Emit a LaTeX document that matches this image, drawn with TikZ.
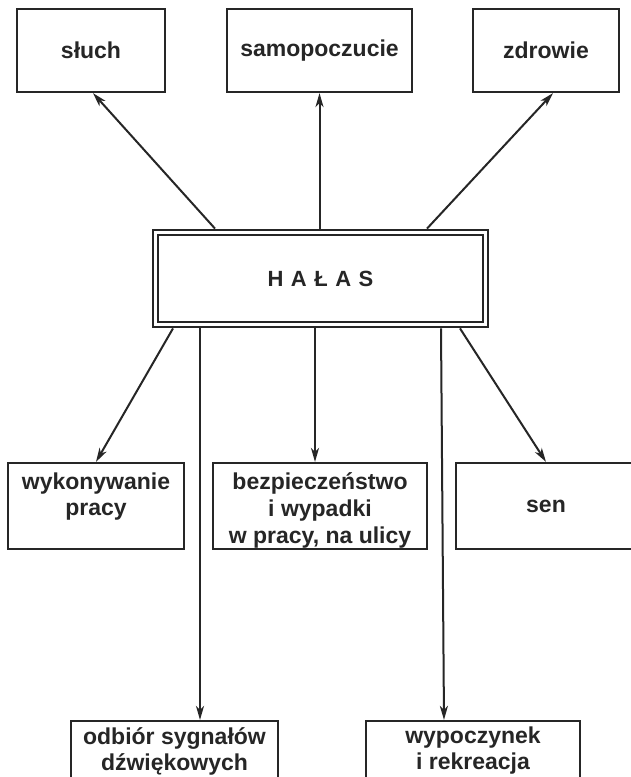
\documentclass[tikz,border=0pt]{standalone}
\usepackage{fontspec}
\setmainfont{Liberation Sans}
\usetikzlibrary{arrows.meta}
\definecolor{ink}{HTML}{262626}
\newcommand\lblfont{\fontsize{23}{26}\selectfont\bfseries}
\newcommand\hfont{\fontsize{22}{26}\selectfont\bfseries}
\begin{document}
\begin{tikzpicture}[x=1pt,y=-1pt,
  box/.style={draw=ink, line width=2.2pt, rectangle, inner sep=0pt, align=center, font=\lblfont, text=ink},
  lbl/.style={align=center, font=\lblfont, text=ink, inner sep=0pt},
  arr/.style={draw=ink, line width=2pt, -{Stealth[length=14pt,width=8pt,inset=4pt]}},
]
\useasboundingbox[fill=white] (0,0) rectangle (631,777);
\clip (0,0) rectangle (631,777);

% top boxes
\node[box, minimum width=148pt, minimum height=83pt] (sluch) at (91,50.5) {słuch};
\node[box, minimum width=185pt, minimum height=83pt] (samop) at (319.5,50.5) {samopoczucie};
\node[box, minimum width=146pt, minimum height=83pt] (zdrow) at (546,50.5) {zdrowie};

% central box
\node[draw=ink, line width=2.2pt, double, double distance=3.4pt, outer sep=3.9pt,
      minimum width=330pt, minimum height=92pt, inner sep=0pt,
      font=\hfont, text=ink] (halas) at (320.5,278.5)
      {H\hspace{7.5pt}A\hspace{7.5pt}Ł\hspace{7.5pt}A\hspace{7.5pt}S};

% middle boxes
\node[box, minimum width=176pt, minimum height=86pt] (wyk) at (96,506) {};
\node[lbl] (wykt) at ([yshift=9pt]wyk.center) {wykonywanie\\pracy};
\node[box, minimum width=214pt, minimum height=86pt] (bezp) at (320,506) {};
\node[lbl] (bezpt) at ([yshift=-4pt]bezp.center) {bezpieczeństwo\\[1pt]i wypadki\\[1pt]w pracy, na ulicy};
\node[box, minimum width=180pt, minimum height=86pt] (sen) at (546,506) {sen};

% bottom boxes
\node[box, minimum width=207pt, minimum height=60pt] (odb) at (174.5,751) {odbiór sygnałów\\dźwiękowych};
\node[box, minimum width=214pt, minimum height=60pt] (wyp) at (473,751) {wypoczynek\\i rekreacja};

% helper coordinates
\coordinate (p1) at (215,0);
\coordinate (t1) at (93,0);
\coordinate (p3) at (427,0);
\coordinate (t3) at (553,0);
\coordinate (b1) at (173,0);
\coordinate (v1) at (200,0);
\coordinate (v2) at (315,0);
\coordinate (q1) at (441,0);
\coordinate (q2) at (444,0);
\coordinate (b5) at (460,0);

% arrows up
\draw[arr] (halas.north -| p1) -- (sluch.south -| t1);
\draw[arr] (halas.north -| samop) -- (samop.south);
\draw[arr] (halas.north -| p3) -- (zdrow.south -| t3);

% arrows down
\draw[arr] (halas.south -| b1) -- (wyk.north);
\draw[arr] (halas.south -| v1) -- (odb.north -| v1);
\draw[arr] (halas.south -| v2) -- (bezp.north -| v2);
\draw[arr] (halas.south -| q1) -- (wyp.north -| q2);
\draw[arr] (halas.south -| b5) -- (sen.north);
\end{tikzpicture}
\end{document}
